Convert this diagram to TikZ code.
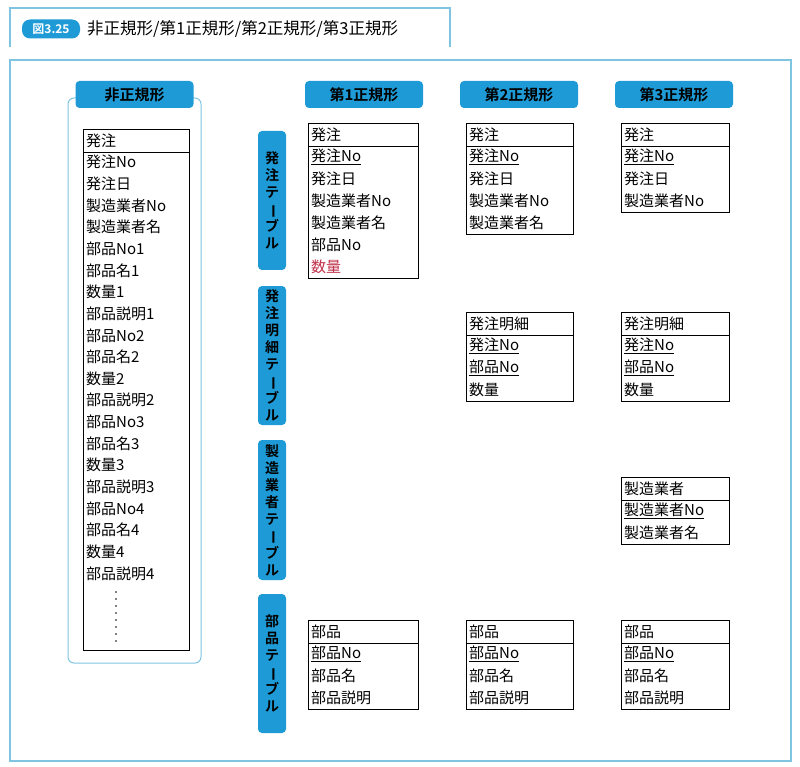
\documentclass[tikz,border=0pt]{standalone}
\usepackage{fontspec}
\usepackage{graphicx}
\newfontfamily\jp{Noto Sans CJK JP}
\newfontfamily\jpb{Noto Sans CJK JP Bold}
\definecolor{bl}{HTML}{1E9BD7}
\definecolor{fr}{HTML}{7FC4E0}
\definecolor{rd}{HTML}{C0304A}
\newcommand{\vb}{\rotatebox[origin=c]{-90}{ー}}
\newcommand{\mktable}[7]{%
  \draw[thin] (#2,#3) rectangle (#2+#4,#3+23+#5*22) coordinate (#1);
  \draw[thin] (#2,#3+23) -- (#2+#4,#3+23);
  \node[rowt] (#1h) at (#2+3,#3+11.5) {#6};
  \foreach \r [count=\i] in {#7} {\node[rowt] at (#2+3,#3+23+\i*22-11) {\r};}
}
\begin{document}
\begin{tikzpicture}[x=1pt,y=-1pt,
  rowt/.style={anchor=west,font=\jp\fontsize{15}{15}\selectfont,inner sep=0pt},
  hdr/.style={fill=bl,rounded corners=4pt,minimum width=118pt,minimum height=27pt,font=\jpb\fontsize{15}{15}\selectfont},
  side/.style={fill=bl,rounded corners=4pt,minimum width=28pt,font=\jpb\fontsize{14}{17}\selectfont,align=center}]
\useasboundingbox (0,0) rectangle (800,767);
% title
\draw[fr,line width=1.2pt] (10,47) -- (10,8) -- (450,8) -- (450,47);
\node[fill=bl,rounded corners=8pt,text=white,font=\jpb\fontsize{12}{12}\selectfont,minimum width=58pt,minimum height=19pt,inner sep=0pt] (badge) at (51,29) {図3.25};
\node[anchor=west,font=\jp\fontsize{16.5}{16}\selectfont,inner sep=0pt] (title) at (87,29) {非正規形/第1正規形/第2正規形/第3正規形};
\draw[fr,line width=1.2pt] (10,60) rectangle (791,761);
% non-normal
\draw[fr,line width=1pt,rounded corners=6pt] (68,663) rectangle (201,98);
\node[hdr] (h0) at (134.5,94.5) {非正規形};
\draw[thin] (83,129) rectangle (189,650);
\draw[thin] (83,152) -- (189,152);
\node[rowt] at (86,140.5) {発注};
\foreach \r [count=\i] in {発注No,発注日,製造業者No,製造業者名,部品No1,部品名1,数量1,部品説明1,部品No2,部品名2,数量2,部品説明2,部品No3,部品名3,数量3,部品説明3,部品No4,部品名4,数量4,部品説明4}
  {\node[rowt] at (86,140.5+\i*21.65) {\r};}
\foreach \d in {592,599,...,646} \fill (116,\d) circle (0.9pt);
% column headers
\node[hdr] (h1) at (364,94.5) {第1正規形};
\node[hdr] (h2) at (519,94.5) {第2正規形};
\node[hdr] (h3) at (674,94.5) {第3正規形};
% side labels
\node[side,minimum height=139pt] (s1) at (272,200.5) {発\\注\\テ\\\vb\\ブ\\ル};
\node[side,minimum height=139pt] (s2) at (272,355.5) {発\\注\\明\\細\\テ\\\vb\\ブ\\ル};
\node[side,minimum height=140pt] (s3) at (272,510) {製\\造\\業\\者\\テ\\\vb\\ブ\\ル};
\node[side,minimum height=139pt] (s4) at (272,663.5) {部\\品\\テ\\\vb\\ブ\\ル};
% tables
\mktable{t11}{308}{123}{110}{6}{発注}{\underline{発注No},発注日,製造業者No,製造業者名,部品No,\textcolor{rd}{数量}}
\mktable{t21}{466}{123}{107}{4}{発注}{\underline{発注No},発注日,製造業者No,製造業者名}
\mktable{t31}{621}{123}{108}{3}{発注}{\underline{発注No},発注日,製造業者No}
\mktable{t22}{466}{312}{107}{3}{発注明細}{\underline{発注No},\underline{部品No},数量}
\mktable{t32}{621}{312}{108}{3}{発注明細}{\underline{発注No},\underline{部品No},数量}
\mktable{t33}{621}{477}{108}{2}{製造業者}{\underline{製造業者No},製造業者名}
\mktable{t14}{308}{620}{110}{3}{部品}{\underline{部品No},部品名,部品説明}
\mktable{t24}{466}{620}{107}{3}{部品}{\underline{部品No},部品名,部品説明}
\mktable{t34}{621}{620}{108}{3}{部品}{\underline{部品No},部品名,部品説明}
\end{tikzpicture}
\end{document}
